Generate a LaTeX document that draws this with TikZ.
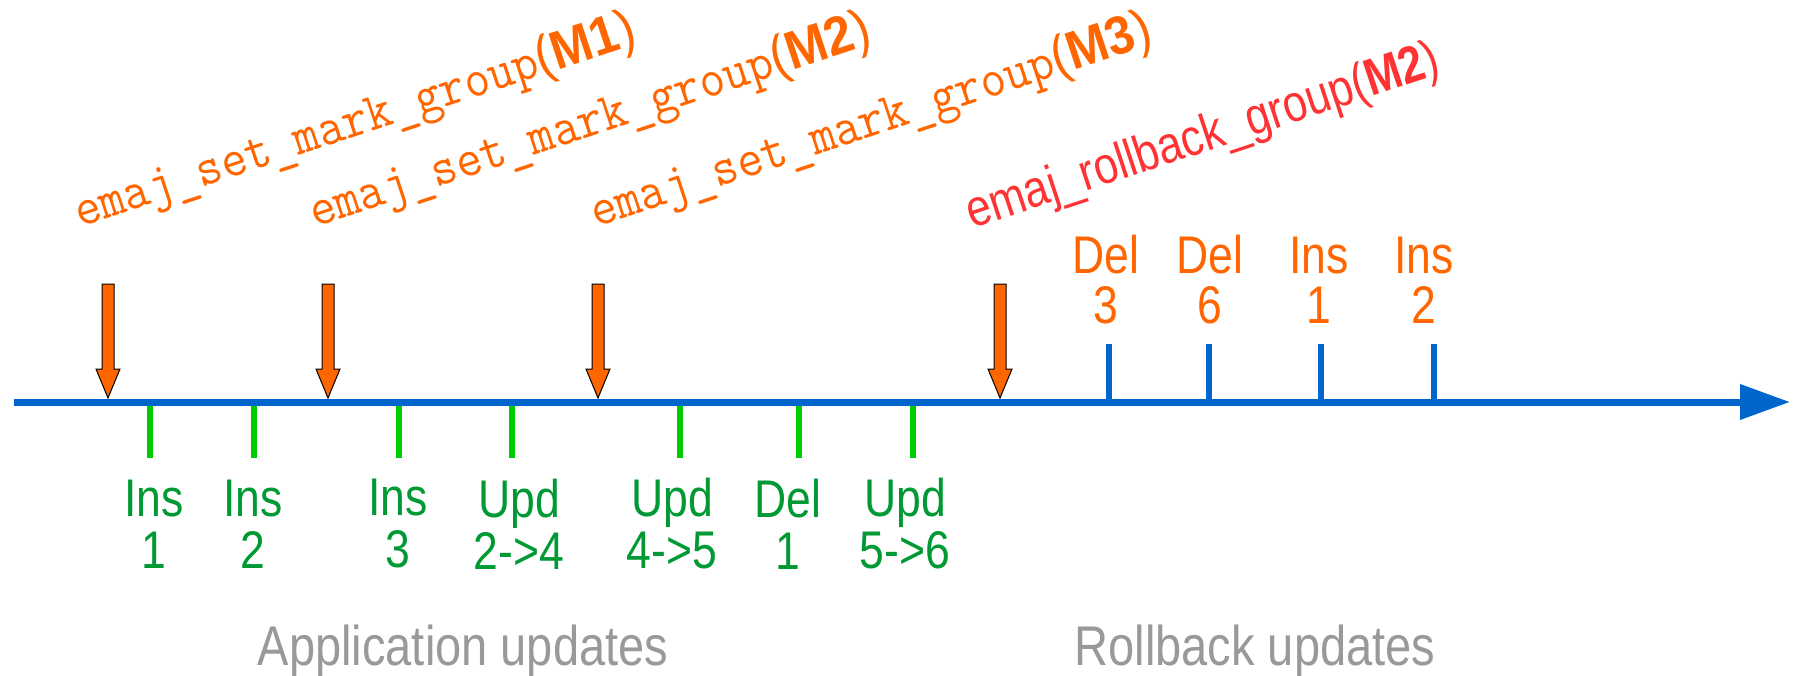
\documentclass[tikz,border=0pt]{standalone}
\usepackage{graphicx}
\usepackage{fontspec}
\setmainfont{Liberation Sans}
\newfontfamily\condf[FakeStretch=0.84]{Liberation Sans}
\usetikzlibrary{arrows.meta}
\definecolor{orng}{HTML}{FF6600}
\definecolor{rbred}{HTML}{FF3333}
\definecolor{tickgreen}{HTML}{00CC00}
\definecolor{labgreen}{HTML}{009933}
\definecolor{axisblue}{HTML}{0066CC}
\definecolor{graytxt}{HTML}{999999}
\newcommand{\marktxt}[1]{\scalebox{0.92}[1]{\ttfamily emaj\_set\_mark\_group{\rmfamily(\textbf{#1})}}}
\begin{document}
\begin{tikzpicture}[x=0.5pt,y=-0.5pt,
  axisline/.style={draw=axisblue, line width=3.5pt, -{Triangle[length=25pt,width=17pt]}},
  gtick/.style={draw=tickgreen, line width=2.6pt},
  btick/.style={draw=axisblue, line width=2.6pt},
  glab/.style={text=labgreen, font=\condf\fontsize{26.5}{26}\selectfont, align=center, inner sep=0pt},
  olab/.style={text=orng, font=\condf\fontsize{26.5}{25}\selectfont, align=center, inner sep=0pt},
  bottomlab/.style={text=graytxt, font=\condf\fontsize{28}{30}\selectfont, inner sep=0pt},
  rotlab/.style={rotate=18.3, anchor=base west, inner sep=0pt},
  markarrow/.style={fill=orng, draw=black, line width=0.5pt}
]
\useasboundingbox (0,0) rectangle (1797,675);
% axis
\coordinate (axstart) at (14,402);
\coordinate (axend) at (1790,402);
\draw[axisline] (axstart) -- (axend);
% mark arrows
\foreach \n/\x in {a1/108,a2/328,a3/598,a4/1000}{
  \coordinate (\n) at (\x,398);
  \draw[markarrow] ([xshift=-3pt]\n |- 0,284) -- ([xshift=3pt]\n |- 0,284)
     -- ([xshift=3pt]\n |- 0,369) -- ([xshift=6pt]\n |- 0,369) -- (\n)
     -- ([xshift=-6pt]\n |- 0,369) -- ([xshift=-3pt]\n |- 0,369) -- cycle;
}
% green ticks and labels
\foreach \n/\x/\lx/\t in {g1/150/154/{Ins\\1}, g2/254/253/{Ins\\2}, g3/399/398/{Ins\\3},
   g4/512/519/{Upd\\2->4}, g5/680/672/{Upd\\4->5}, g6/799/788/{Del\\1}, g7/913/905/{Upd\\5->6}}{
  \coordinate (\n top) at (\x,406);
  \coordinate (\n bot) at (\x,458);
  \draw[gtick] (\n top) -- (\n bot);
  \node[glab] (\n lab) at (\lx,524) {\t};
}
% blue ticks and labels
\foreach \n/\x/\lx/\t in {b1/1109/1106/{Del\\3}, b2/1209/1210/{Del\\6}, b3/1321/1319/{Ins\\1}, b4/1434/1424/{Ins\\2}}{
  \coordinate (\n top) at (\x,344);
  \coordinate (\n bot) at (\x,401);
  \draw[btick] (\n top) -- (\n bot);
  \node[olab] (\n lab) at (\lx,280) {\t};
}
% rotated function labels
\node[rotlab, text=orng, font=\fontsize{27}{30}\selectfont] (f1) at (80,228) {\marktxt{M1}};
\node[rotlab, text=orng, font=\fontsize{27}{30}\selectfont] (f2) at (315,228) {\marktxt{M2}};
\node[rotlab, text=orng, font=\fontsize{27}{30}\selectfont] (f3) at (596,228) {\marktxt{M3}};
\node[rotlab, text=rbred, font=\condf\fontsize{26}{30}\selectfont] (f4) at (972,229) {emaj\_rollback\_group(\textbf{M2})};
% bottom labels
\node[bottomlab] (app) at (463,651) {Application updates};
\node[bottomlab] (rb) at (1255,651) {Rollback updates};
\end{tikzpicture}
\end{document}
